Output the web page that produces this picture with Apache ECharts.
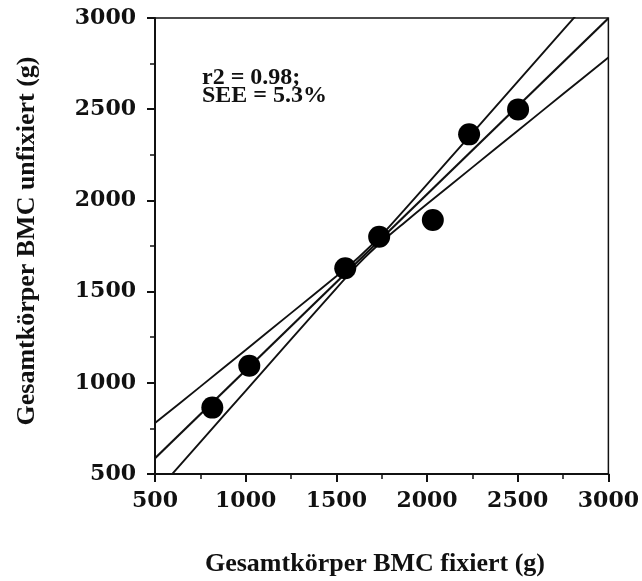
<!DOCTYPE html>
<html>
<head>
<meta charset="utf-8">
<script src="https://cdn.jsdelivr.net/npm/echarts@6/dist/echarts.min.js"></script>
<style>html,body{margin:0;padding:0;background:#fff;}#c{width:642px;height:581px;}</style>
</head>
<body>
<div id="c"></div>
<script>
// Data
const fixiert   = [816, 1020, 1549, 1736, 2032, 2232, 2502];
const unfixiert = [864, 1094, 1628, 1801, 1893, 2362, 2499];
const regX = [500, 3000];
const regY = [586, 2999];
const bandX     = [500, 750, 1000, 1250, 1500, 1625, 1750, 1875, 2000, 2250, 2500, 2750, 3000];
const bandUpper = [779, 979, 1180, 1382, 1584, 1690, 1811, 1948, 2088, 2369, 2651, 2933, 3215];
const bandLower = [393, 675, 956, 1238, 1518, 1655, 1773, 1878, 1980, 2181, 2382, 2583, 2783];
const axisMin = 500, axisMax = 3000, axisStep = 500;
const xTitle = 'Gesamtkörper BMC fixiert (g)';
const yTitle = 'Gesamtkörper BMC unfixiert (g)';
const statLines = ['r2 = 0.98;', 'SEE = 5.3%'];

const zip = (a, b) => a.map((v, i) => [v, b[i]]);
const chart = echarts.init(document.getElementById('c'), null, {renderer: 'canvas'});
const tickFont = {fontFamily: 'DejaVu Serif', fontWeight: 'bold', fontSize: 22, color: '#111', formatter: v => String(v)};
const axisCommon = {
  type: 'value', min: axisMin, max: axisMax, interval: axisStep,
  axisLine: {show: true, lineStyle: {color: '#111', width: 2}},
  axisTick: {show: true, inside: false, length: 8, lineStyle: {color: '#111', width: 2}},
  minorTick: {show: true, splitNumber: 2, length: 5, lineStyle: {color: '#111', width: 1.5}},
  splitLine: {show: false},
  minorSplitLine: {show: false}
};
chart.setOption({
  animation: false,
  backgroundColor: '#fff',
  grid: {left: 155, right: 30, top: 18, bottom: 107, show: true, borderColor: '#111', borderWidth: 1.5, backgroundColor: 'transparent'},
  xAxis: Object.assign({}, axisCommon, {axisLabel: Object.assign({margin: 16}, tickFont)}),
  yAxis: Object.assign({}, axisCommon, {axisLabel: Object.assign({margin: 19}, tickFont)}),
  graphic: [
    {type: 'text', x: 375, y: 564, style: {text: xTitle, font: 'bold 26px "Liberation Serif"', fill: '#111', align: 'center', verticalAlign: 'middle'}},
    {type: 'text', x: 27, y: 241, rotation: Math.PI / 2, style: {text: yTitle, font: 'bold 26px "Liberation Serif"', fill: '#111', align: 'center', verticalAlign: 'middle'}},
    {type: 'text', x: 202, y: 78, style: {text: statLines[0], font: 'bold 24px "Liberation Serif"', fill: '#111', align: 'left', verticalAlign: 'middle'}},
    {type: 'text', x: 202, y: 96, style: {text: statLines[1], font: 'bold 24px "Liberation Serif"', fill: '#111', align: 'left', verticalAlign: 'middle'}}
  ],
  series: [
    {type: 'line', data: zip(bandX, bandUpper), smooth: 0.3, showSymbol: false, clip: true, lineStyle: {color: '#111', width: 1.9}, z: 2},
    {type: 'line', data: zip(bandX, bandLower), smooth: 0.3, showSymbol: false, clip: true, lineStyle: {color: '#111', width: 1.9}, z: 2},
    {type: 'line', data: zip(regX, regY), showSymbol: false, clip: true, lineStyle: {color: '#111', width: 2.2}, z: 3},
    {type: 'scatter', data: zip(fixiert, unfixiert), symbol: 'circle', symbolSize: 22, itemStyle: {color: '#000', opacity: 1}, z: 5}
  ]
});
</script>
</body>
</html>
